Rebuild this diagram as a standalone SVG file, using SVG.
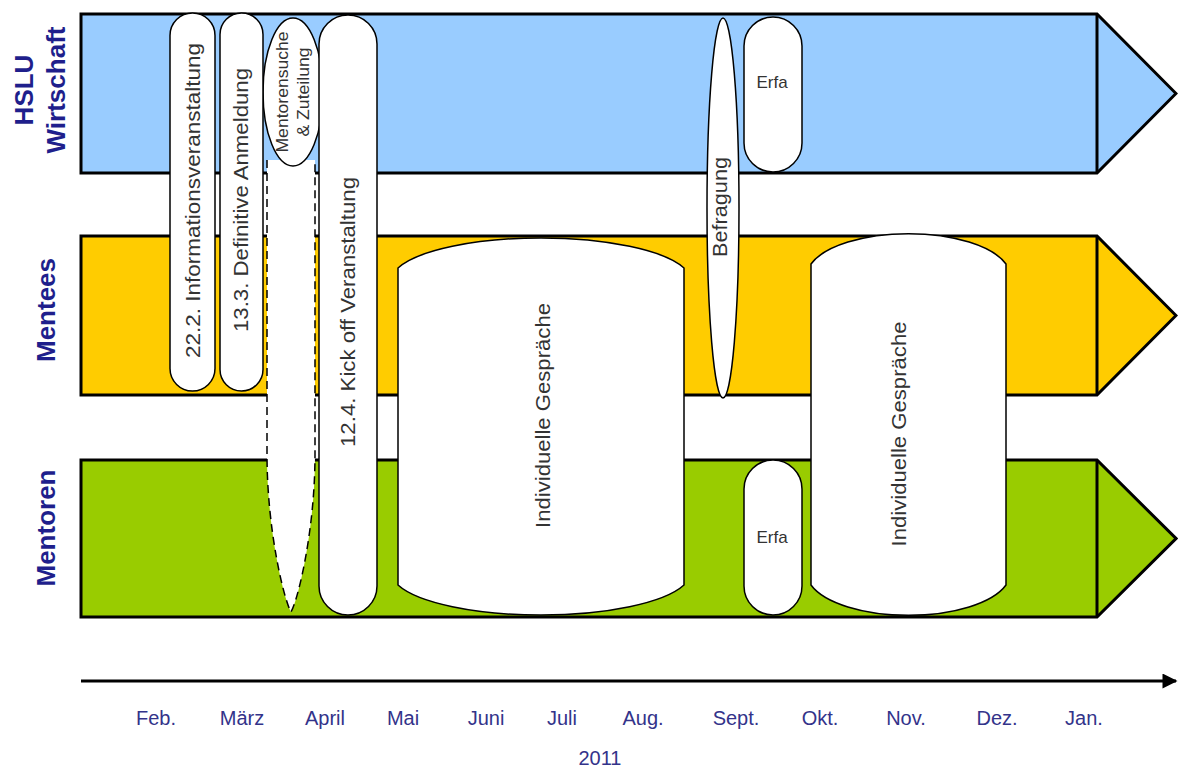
<svg xmlns="http://www.w3.org/2000/svg" width="1178" height="769" viewBox="0 0 1178 769">
<defs>
<style>
.band{stroke:#000;stroke-width:3;stroke-linejoin:miter}
.sep{stroke:#000;stroke-width:3}
.shape{fill:#fff;stroke:#000;stroke-width:1.5}
.dash{fill:#fff;stroke:#000;stroke-width:1.5;stroke-dasharray:8 5}
.lbl{font-family:"Liberation Sans",Arial,sans-serif;font-weight:bold;font-size:26px;fill:#1f1f8c}
.txt{font-family:"Liberation Sans",Arial,sans-serif;font-size:20px;fill:#333}
.small{font-family:"Liberation Sans",Arial,sans-serif;font-size:16px;fill:#333}
.erfa{font-family:"Liberation Sans",Arial,sans-serif;font-size:17px;fill:#333}
.month{font-family:"Liberation Sans",Arial,sans-serif;font-size:20px;fill:#33338a}
</style>
<marker id="ah" viewBox="0 0 10 10" refX="9" refY="5" markerWidth="6" markerHeight="5" orient="auto" markerUnits="strokeWidth">
<path d="M0,0 L10,5 L0,10 Z" fill="#000"/>
</marker>
</defs>
<rect width="1178" height="769" fill="#fff"/>

<g id="band-hslu">
<path class="band" fill="#99ccff" d="M81,14 H1097 L1176,93.5 L1097,173 H81 Z"/>
<line class="sep" x1="1097" y1="14" x2="1097" y2="173"/>
<text class="lbl" text-anchor="middle" transform="translate(33,90) rotate(-90)">HSLU</text>
<text class="lbl" text-anchor="middle" transform="translate(65,90) rotate(-90)">Wirtschaft</text>
</g>
<g id="band-mentees">
<path class="band" fill="#ffcc00" d="M81,236 H1097 L1176,315.5 L1097,395 H81 Z"/>
<line class="sep" x1="1097" y1="236" x2="1097" y2="395"/>
<text class="lbl" text-anchor="middle" transform="translate(55,310) rotate(-90)">Mentees</text>
</g>
<g id="band-mentoren">
<path class="band" fill="#99cc00" d="M81,460 H1097 L1176,538.5 L1097,617 H81 Z"/>
<line class="sep" x1="1097" y1="460" x2="1097" y2="617"/>
<text class="lbl" text-anchor="middle" transform="translate(55,528) rotate(-90)">Mentoren</text>
</g>

<g id="mentorensuche">
<path class="dash" d="M267,160 V455 C267,530 284,600 291,612 C298,600 315,530 315,455 V160"/>
<ellipse class="shape" cx="293" cy="92" rx="30" ry="74"/>
<text class="small" text-anchor="middle" textLength="121" lengthAdjust="spacingAndGlyphs" transform="translate(288,92) rotate(-90)">Mentorensuche</text>
<text class="small" text-anchor="middle" textLength="89" lengthAdjust="spacingAndGlyphs" transform="translate(309,92) rotate(-90)">&amp; Zuteilung</text>
</g>

<g id="info">
<rect class="shape" x="170" y="13" width="45" height="378" rx="22.5"/>
<text class="txt" text-anchor="middle" textLength="315" lengthAdjust="spacingAndGlyphs" transform="translate(200,200.5) rotate(-90)">22.2. Informationsveranstaltung</text>
</g>

<g id="anmeldung">
<rect class="shape" x="220" y="13" width="43" height="378" rx="21.5"/>
<text class="txt" text-anchor="middle" textLength="264" lengthAdjust="spacingAndGlyphs" transform="translate(248,200) rotate(-90)">13.3. Definitive Anmeldung</text>
</g>

<g id="kickoff">
<rect class="shape" x="319" y="15" width="58" height="600" rx="29"/>
<text class="txt" text-anchor="middle" textLength="270" lengthAdjust="spacingAndGlyphs" transform="translate(355,312) rotate(-90)">12.4. Kick off Veranstaltung</text>
</g>

<g id="gespraeche1">
<path class="shape" d="M398,268 A150,43 0 0 1 684,268 V585 A150,43 0 0 1 398,585 Z"/>
<text class="txt" text-anchor="middle" textLength="225" lengthAdjust="spacingAndGlyphs" transform="translate(550,415.5) rotate(-90)">Individuelle Gespräche</text>
</g>

<g id="befragung">
<ellipse class="shape" cx="723" cy="208" rx="16" ry="190"/>
<text class="txt" text-anchor="middle" textLength="100" lengthAdjust="spacingAndGlyphs" transform="translate(727,207) rotate(-90)">Befragung</text>
</g>

<g id="erfa-top">
<rect class="shape" x="744" y="17" width="58" height="155" rx="29"/>
<text class="erfa" text-anchor="middle" x="772" y="88">Erfa</text>
</g>

<g id="erfa-bottom">
<rect class="shape" x="744" y="460" width="58" height="155" rx="29"/>
<text class="erfa" text-anchor="middle" x="772" y="543">Erfa</text>
</g>

<g id="gespraeche2">
<path class="shape" d="M811,264 A102,43 0 0 1 1006,264 V585 A102,43 0 0 1 811,585 Z"/>
<text class="txt" text-anchor="middle" textLength="225" lengthAdjust="spacingAndGlyphs" transform="translate(906,434) rotate(-90)">Individuelle Gespräche</text>
</g>

<g id="connectors">
<line x1="81" y1="681" x2="1176" y2="681" stroke="#000" stroke-width="3" marker-end="url(#ah)"/>
</g>

<g id="axis-labels">
<text class="month" text-anchor="middle" x="156" y="725">Feb.</text>
<text class="month" text-anchor="middle" x="242" y="725">März</text>
<text class="month" text-anchor="middle" x="325" y="725">April</text>
<text class="month" text-anchor="middle" x="403" y="725">Mai</text>
<text class="month" text-anchor="middle" x="486" y="725">Juni</text>
<text class="month" text-anchor="middle" x="562" y="725">Juli</text>
<text class="month" text-anchor="middle" x="643" y="725">Aug.</text>
<text class="month" text-anchor="middle" x="736" y="725">Sept.</text>
<text class="month" text-anchor="middle" x="820" y="725">Okt.</text>
<text class="month" text-anchor="middle" x="906" y="725">Nov.</text>
<text class="month" text-anchor="middle" x="997" y="725">Dez.</text>
<text class="month" text-anchor="middle" x="1084" y="725">Jan.</text>
<text class="month" text-anchor="middle" x="600" y="765">2011</text>
</g>
</svg>
